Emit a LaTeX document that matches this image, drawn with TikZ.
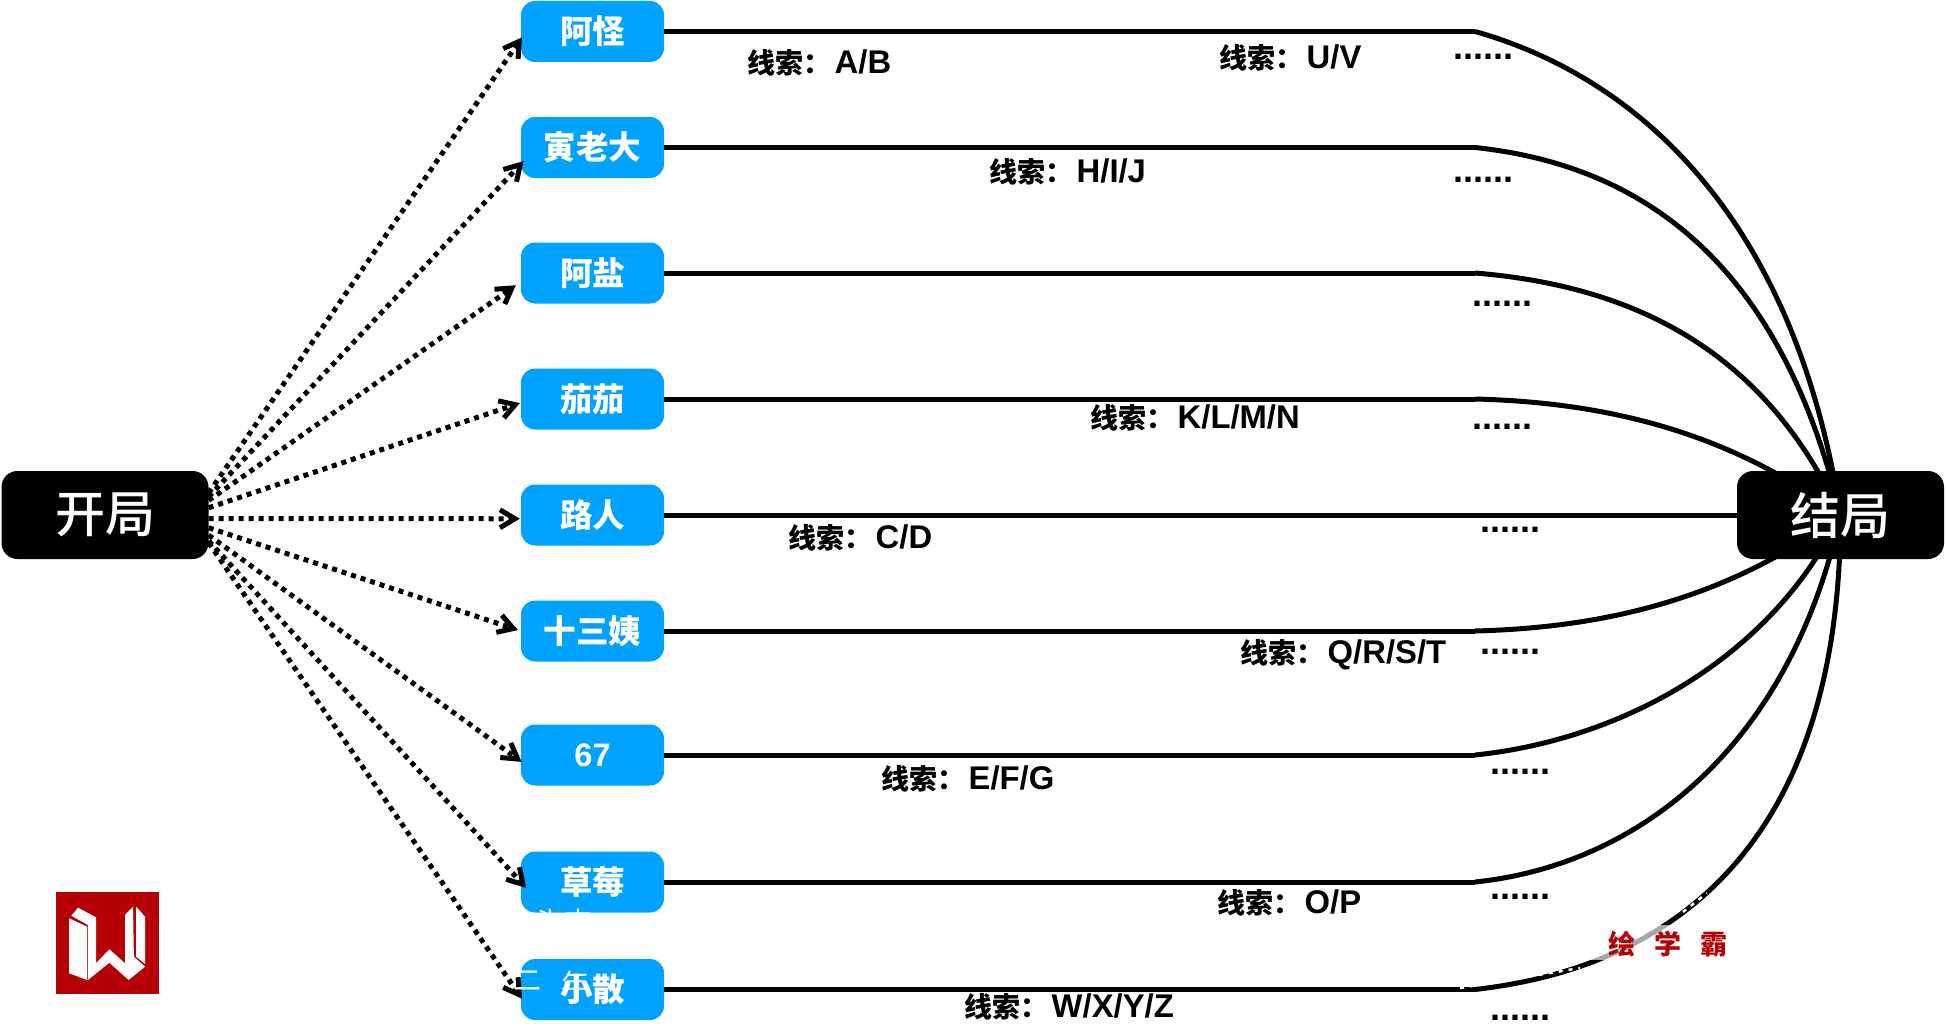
\documentclass[tikz,border=0pt]{standalone}
\usepackage{fontspec}
\usetikzlibrary{arrows.meta,backgrounds}
\newfontfamily\cjk{Noto Sans CJK SC}
\newfontfamily\cjkmed{Noto Sans CJK SC Medium}
\newfontfamily\lat{Liberation Sans}
\definecolor{boxblue}{HTML}{00A2FF}
\definecolor{logored}{HTML}{B50005}
\newcommand{\clue}[1]{{\cjk\bfseries 线索：}\hspace{3.5pt}{\lat\bfseries\fontsize{32.8}{33}\selectfont #1}}
\tikzset{
    person/.style={fill=boxblue, rounded corners=14pt, minimum width=143pt, minimum height=61pt, inner sep=0pt, text=white, font=\cjk\bfseries\fontsize{32.5}{36}\selectfont},
    terminal/.style={fill=black, rounded corners=16pt, minimum width=207pt, minimum height=88pt, inner sep=0pt, text=white, font=\cjkmed\fontsize{50}{54}\selectfont},
    clueline/.style={line width=5pt, black},
    fanline/.style={line width=5pt, dash pattern=on 5pt off 5pt, -{Straight Barb[length=15pt,width=18pt,line width=5pt]}},
    cluetext/.style={anchor=west, inner sep=0pt, yshift=-1pt, font=\fontsize{28}{30}\selectfont},
    more/.style={anchor=center, inner sep=0pt, yshift=-1pt, font=\lat\bfseries\fontsize{36}{36}\selectfont},
    ghost/.style={text=white, inner sep=0pt, font=\cjk\fontsize{28}{30}\selectfont},
    scratch/.style={white, line width=2.5pt, dash pattern=on 4pt off 6pt}
}
\begin{document}
\begin{tikzpicture}[x=1pt,y=-1pt]
    \useasboundingbox (0,0) rectangle (1946,1033);

    % 节点
    \node[terminal] (start) at (105,515) {开局};
    \node[terminal] (finale) at (1840.5,515) {结局};
    \node[person] (aguai) at (592.5,31.5) {阿怪};
    \node[person] (laoda) at (592.5,147.5) {寅老大};
    \node[person] (ayan) at (592.5,273) {阿盐};
    \node[person] (qieqie) at (592.5,399) {茄茄};
    \node[person] (luren) at (592.5,515) {路人};
    \node[person] (shisan) at (592.5,631) {十三姨};
    \node[person] (liuqi) at (592.5,755) {\lat\bfseries 67};
    \node[person] (caomei) at (592.5,882) {草莓};
    \node[person] (xiaosan) at (592.5,989.5) {小散};

    % 转折点
    \coordinate (r1) at (1475,31.5);
    \coordinate (r2) at (1475,147.5);
    \coordinate (r3) at (1475,273);
    \coordinate (r4) at (1475,399);
    \coordinate (r5) at (1475,515);
    \coordinate (r6) at (1475,631);
    \coordinate (r7) at (1475,755);
    \coordinate (r8) at (1475,882);
    \coordinate (r9) at (1475,989.5);

    % 画线
    \begin{scope}[on background layer]
    \draw [clueline] (r1) .. controls (1640,78) and (1795,220) .. (finale.center);
    \draw [clueline] (r2) .. controls (1640,165) and (1780,260) .. (finale.center);
    \draw [clueline] (r3) .. controls (1620,285) and (1760,340) .. (finale.center);
    \draw [clueline] (r4) .. controls (1590,402) and (1720,425) .. (finale.center);
    \draw [clueline] (r5) -- (finale.center);
    \draw [clueline] (r6) .. controls (1590,628) and (1720,605) .. (finale.center);
    \draw [clueline] (r7) .. controls (1620,740) and (1770,660) .. (finale.center);
    \draw [clueline] (r8) .. controls (1640,865) and (1790,745) .. (finale.center);
    \draw [clueline] (r9) .. controls (1600,975) and (1840,910) .. (finale.center);
    \end{scope}
    \draw [clueline] (aguai.east) -- (r1);
    \draw [clueline] (laoda.east) -- (r2);
    \draw [clueline] (ayan.east) -- (r3);
    \draw [clueline] (qieqie.east) -- (r4);
    \draw [clueline] (luren.east) -- (r5);
    \draw [clueline] (shisan.east) -- (r6);
    \draw [clueline] (liuqi.east) -- (r7);
    \draw [clueline] (caomei.east) -- (r8);
    \draw [clueline] (xiaosan.east) -- (r9);

    % 虚线箭头
    \draw [fanline, shorten >=-2pt] (start.12) -- (aguai.186);
    \draw [fanline, shorten >=-4pt] (start.10) -- (laoda.193);
    \draw [fanline, shorten >=6pt] (start.8) -- (ayan.187);
    \draw [fanline, shorten >=1pt] (start.4) -- (qieqie.183);
    \draw [fanline, shorten >=1pt] (start.358) -- (luren.183);
    \draw [fanline, shorten >=3pt] (start.353) -- (shisan.180);
    \draw [fanline, shorten >=-1pt] (start.349) -- (liuqi.185);
    \draw [fanline, shorten >=-8pt] (start.346) -- (caomei.180);
    \draw [fanline, shorten >=-2pt] (start.345) -- (xiaosan.186);

    % 标注
    \node[cluetext] (tab) at (747,62) {\clue{A/B}};
    \node[cluetext] (tuv) at (1219,57) {\clue{U/V}};
    \node[cluetext] (thij) at (989,171) {\clue{H/I/J}};
    \node[cluetext] (tklmn) at (1090,417) {\clue{K/L/M/N}};
    \node[cluetext] (tcd) at (788,537) {\clue{C/D}};
    \node[cluetext] (tqrst) at (1240,654) {\clue{Q/R/S/T}};
    \node[cluetext] (tefg) at (881,778) {\clue{E/F/G}};
    \node[cluetext] (top) at (1217,902) {\clue{O/P}};
    \node[cluetext] (twxyz) at (964,1006) {\clue{W/X/Y/Z}};
    \node[more] (m1) at (1483,56) {......};
    \node[more] (m2) at (1483,179) {......};
    \node[more] (m3) at (1502,303) {......};
    \node[more] (m4) at (1502,426) {......};
    \node[more] (m5) at (1510,528.5) {......};
    \node[more] (m6) at (1510,650.5) {......};
    \node[more] (m7) at (1520,771) {......};
    \node[more] (m8) at (1520,896) {......};
    \node[more] (m9) at (1520,1017) {......};

    % 水印
    \node[ghost] (g1) at (548,922) {头};
    \node[ghost] (g2) at (578,922) {吉};
    \node[ghost] (g3) at (527,981) {二};
    \node[ghost] (g4) at (575,984) {年};
    \coordinate (s1) at (1460,988);
    \coordinate (s2) at (1580,968);
    \coordinate (s3) at (1683,912);
    \coordinate (s4) at (1707,893);
    \draw [scratch] (s1) -- (s2);
    \draw [scratch] (s3) -- (s4);
    \fill [white, opacity=0.65] (1457,925) rectangle (1890,960);
    \node[text=logored, inner sep=0pt, font=\cjk\bfseries\fontsize{27}{30}\selectfont] (brand) at (1668,944) {绘\hspace{19pt}学\hspace{19pt}霸};
    \fill [logored] (56,892) rectangle (159,994);
    \fill [white] (69.2,918.3) -- (87.1,926.7) -- (87.1,980) -- (69.2,973.3) -- cycle;
    \fill [white] (71.4,915.7) -- (78.1,907.7) -- (96,917.3) -- (96,963.3) -- (109.4,949.3) -- (125,963.3) -- (125,915) -- (133,906.7) -- (133.9,956.7) -- (145.1,966.7) -- (128.6,980) -- (109.4,962.7) -- (87.9,980) -- (87.9,925) -- cycle;
    \fill [white] (136.2,906.7) -- (145.1,916.7) -- (145.1,964) -- (136.2,956.7) -- cycle;
\end{tikzpicture}
\end{document}
